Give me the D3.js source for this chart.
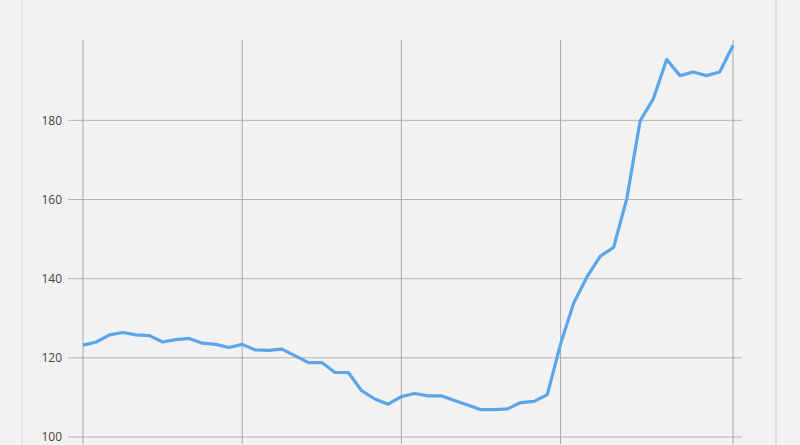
<!DOCTYPE html>
<html>
<head>
<meta charset="utf-8">
<script src="https://cdn.jsdelivr.net/npm/d3@7/dist/d3.min.js"></script>
<style>
  body { margin: 0; background: #f2f2f2; }
  svg { display: block; font-family: "Open Sans", "Noto Sans", sans-serif; }
</style>
</head>
<body>
<div id="chart"></div>
<script>
// monthly index values (50 months)
var values = [
  123.2, 124.0, 125.8, 126.4, 125.8, 125.6, 124.0, 124.6, 124.9, 123.7,
  123.4, 122.6, 123.4, 122.0, 121.9, 122.2, 120.5, 118.8, 118.8, 116.3,
  116.3, 111.7, 109.6, 108.3, 110.2, 111.0, 110.4, 110.4, 109.2, 108.1,
  106.9, 106.9, 107.1, 108.7, 109.0, 110.7, 123.5, 133.9, 140.5, 145.7,
  147.9, 160.3, 179.9, 185.5, 195.4, 191.3, 192.2, 191.3, 192.2, 198.9
];
var months = d3.range(values.length);
var yTicks = [100, 120, 140, 160, 180];
var xGridIdx = [0, 12, 24, 36, 49];

var width = 800, height = 445;

var svg = d3.select("#chart").append("svg")
    .attr("width", width)
    .attr("height", height);

// panel
svg.append("rect")
    .attr("x", 22).attr("y", -10)
    .attr("width", 754).attr("height", height + 20)
    .attr("fill", "#f2f2f2")
    .attr("stroke", "#e3e3e3")
    .attr("stroke-width", 2);

var x = d3.scalePoint().domain(months).range([83, 733]);
var y = d3.scaleLinear().domain([100, 200.3]).range([437, 40]);

// horizontal grid + y labels
var yg = svg.append("g");
yg.selectAll("line")
    .data(yTicks)
    .enter().append("line")
    .attr("x1", 68).attr("x2", 742)
    .attr("y1", function(d) { return y(d); })
    .attr("y2", function(d) { return y(d); })
    .attr("stroke", function(d) { return d == 100 ? "#d0d0d0" : "#b4b4b4"; })
    .attr("stroke-width", function(d) { return d == 100 ? 2 : 1; });

yg.selectAll("text")
    .data(yTicks)
    .enter().append("text")
    .attr("x", 62)
    .attr("y", function(d) { return y(d); })
    .attr("dy", "0.35em")
    .attr("text-anchor", "end")
    .attr("fill", "#444")
    .style("font-size", "12px")
    .text(function(d) { return d; });

// vertical grid
svg.append("g").selectAll("line")
    .data(xGridIdx)
    .enter().append("line")
    .attr("x1", function(d) { return x(d); })
    .attr("x2", function(d) { return x(d); })
    .attr("y1", y.range()[1])
    .attr("y2", 444)
    .attr("stroke", "#a8a8a8")
    .attr("stroke-width", 1);

var line = d3.line()
    .x(function(d, i) { return x(i); })
    .y(function(d) { return y(d); });

svg.append("path")
    .datum(values)
    .attr("d", line)
    .attr("fill", "none")
    .attr("stroke", "#5aa6e8")
    .attr("stroke-width", 3.2)
    .attr("stroke-linejoin", "round");
</script>
</body>
</html>
